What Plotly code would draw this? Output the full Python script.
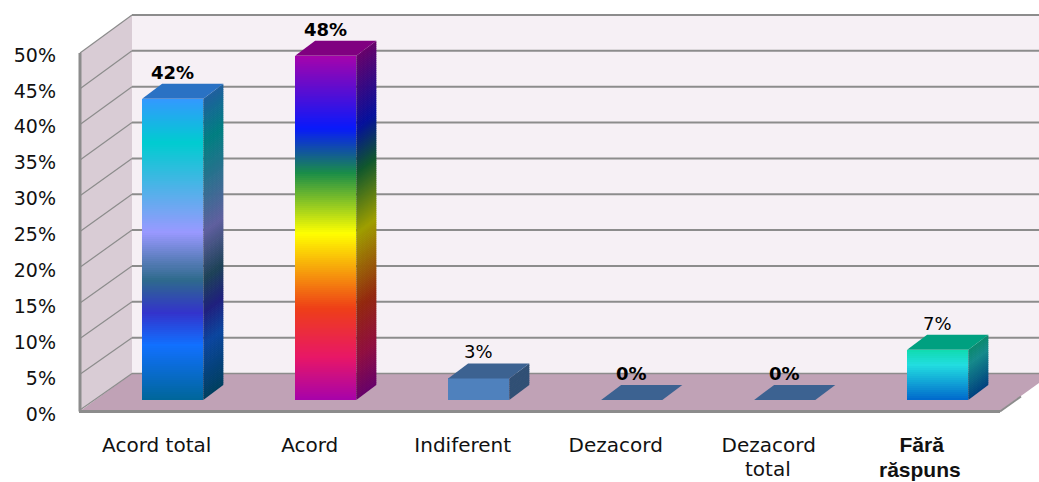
import plotly.graph_objects as go

CATEGORIES = ["Acord total", "Acord", "Indiferent", "Dezacord", "Dezacord", "Fără"]
SECOND_LINES = ["total", "răspuns"]
VALUES = [42, 48, 3, 0, 0, 7]
TICKS = [0, 5, 10, 15, 20, 25, 30, 35, 40, 45, 50]
LABEL_BOLD = [True, True, False, True, True, False]

W, H = 1039, 482
X0, XS = 172.7, 153.0     # pixel of category 0, pixels per category
Y0, YS = 400.0, 7.17      # pixel of value 0 (bar base), pixels per percent
F0, FS = 410.0, 7.14      # front edge of the side wall
L0, LS = 414.0, 7.18      # value-axis labels

GRADIENTS = [
    [(0, "#3399ff"), (.146, "#00ccd0"), (.445, "#9999ff"), (.60, "#2e6a8c"),
     (.71, "#3333cc"), (.817, "#1170ff"), (1, "#006699")],
    [(0, "#a603ab"), (.21, "#0819fb"), (.34, "#1a8d48"), (.516, "#ffff00"),
     (.733, "#ee3f17"), (.875, "#e81766"), (1, "#a603ab")],
    [(0, "#4f81bd"), (1, "#4f81bd")],
    [(0, "#4f81bd"), (1, "#4f81bd")],
    [(0, "#4f81bd"), (1, "#4f81bd")],
    [(0, "#10dcb0"), (.3, "#22dde0"), (1, "#0068cc")],
]
TOP_COLORS = ["#2a72c4", "#800080", "#3c6291", "#3c6291", "#3c6291", "#00a080"]
WALL, SIDE_WALL, FLOOR, GRID = "#f6f0f5", "#d9ccd5", "#c0a2b6", "#8c8c8c"
FONT = "DejaVu Sans"
TEXT = "#111111"


def xv(px):
    return (px - X0) / XS


def yv(px):
    return (Y0 - px) / YS


def hex2rgb(c):
    return tuple(int(c[i:i + 2], 16) for i in (1, 3, 5))


def grad(stops, t, k=1.0):
    for (a, ca), (b, cb) in zip(stops, stops[1:]):
        if t <= b:
            u = (t - a) / (b - a) if b > a else 0
            r = [ra + (rb - ra) * u for ra, rb in zip(hex2rgb(ca), hex2rgb(cb))]
            break
    return "rgb(%d,%d,%d)" % tuple(round(v * k) for v in r)


def poly(points, color, layer="below"):
    d = "M " + " L ".join(f"{x:.4f} {y:.4f}" for x, y in points) + " Z"
    return dict(type="path", path=d, xref="x", yref="y", fillcolor=color,
                line=dict(width=0), layer=layer)


def seg(p, q, width=2, color=GRID):
    return dict(type="line", x0=xv(p[0]), y0=yv(p[1]), x1=xv(q[0]), y1=yv(q[1]),
                xref="x", yref="y", line=dict(color=color, width=width), layer="below")


BX, BY0 = 132.0, 373.5
FRONT_R, BACK_R = 1000.0, 1052.0
shapes = [
    poly([(xv(BX), yv(BY0 - 50 * YS)), (xv(BACK_R + 20), yv(BY0 - 50 * YS)),
          (xv(BACK_R + 20), yv(BY0)), (xv(BX), yv(BY0))], WALL),
    poly([(xv(80), yv(F0 - 50 * FS)), (xv(BX), yv(BY0 - 50 * YS)),
          (xv(BX), yv(BY0)), (xv(80), yv(F0))], SIDE_WALL),
    poly([(xv(80), yv(F0 + 1)), (xv(BX), yv(BY0)), (xv(BACK_R), yv(BY0)),
          (xv(FRONT_R), yv(F0 + 1))], FLOOR),
]
for t in TICKS:
    back = BY0 - t * YS
    front = F0 - t * FS
    if t > 0:
        shapes.append(seg((BX, back), (BACK_R + 20, back), 2))
    else:
        shapes.append(seg((BX, back), (BACK_R, back), 1.5))
    shapes.append(seg((80, front), (BX, back), 1.2))
shapes += [
    seg((80, F0 - 50 * FS), (80, F0 + 1.5), 3),
    seg((79, F0 + 1.5), (FRONT_R, F0 + 1.5), 3),
    seg((FRONT_R, F0 + 1.5), (1021, 396.5), 2),
]

BAR_W = 0.4
DX, DY = 20 / XS, 15 / YS
seg_x, seg_base, seg_h, seg_col = [], [], [], []
for i, (v, stops) in enumerate(zip(VALUES, GRADIENTS)):
    xl, xr = i - BAR_W / 2, i + BAR_W / 2
    if v > 0:
        n = max(1, int(v * YS / 2))
        h = v / n
        for j in range(n):
            t = 1 - (j + .5) / n
            seg_x.append(i)
            seg_base.append(j * h)
            seg_h.append(h)
            seg_col.append(grad(stops, t))
            y0, y1 = j * h, min(v, (j + 1) * h + h * .4)
            shapes.append(poly([(xr, y0), (xr + DX, y0 + DY), (xr + DX, y1 + DY), (xr, y1)],
                               grad(stops, t, .62), "above"))
    shapes.append(poly([(xl, v), (xl + DX, v + DY), (xr + DX, v + DY), (xr, v)],
                       TOP_COLORS[i], "above"))

idx = list(range(len(VALUES)))
fig = go.Figure()
fig.add_bar(x=idx, y=VALUES, width=BAR_W, marker=dict(color=[s[0][1] for s in GRADIENTS], line_width=0),
            hoverinfo="skip", showlegend=False)
fig.add_bar(x=seg_x, y=seg_h, base=seg_base, width=BAR_W, marker=dict(color=seg_col, line_width=0),
            hoverinfo="skip", showlegend=False)
fig.add_scatter(x=idx, y=VALUES, xaxis="x", yaxis="y2", mode="markers",
                marker=dict(opacity=0), hoverinfo="skip", showlegend=False)

annotations = [
    dict(x=i, y=v, xref="x", yref="y", yanchor="bottom", xanchor="center", yshift=14,
         text=(f"<b>{v}%</b>" if b else f"{v}%"), showarrow=False,
         font=dict(family=FONT, size=18, color="#000000"))
    for i, (v, b) in enumerate(zip(VALUES, LABEL_BOLD))
]
annotations += [
    dict(x=4, y=yv(469), xref="x", yref="y", xshift=-17, xanchor="center", yanchor="middle", showarrow=False,
         text=SECOND_LINES[0], font=dict(family=FONT, size=20, color=TEXT)),
    dict(x=5, y=yv(469), xref="x", yref="y", xshift=-18, xanchor="center", yanchor="middle", showarrow=False,
         text=f"<b>{SECOND_LINES[1]}</b>", font=dict(family="Liberation Sans", size=21, color=TEXT)),
]

SPAN = '<span style="font-family:Liberation Sans;font-weight:bold;font-size:21px">%s</span>'
ticktext = CATEGORIES[:-1] + [SPAN % CATEGORIES[-1]]

fig.update_layout(
    width=W, height=H, autosize=False,
    margin=dict(l=0, r=0, t=0, b=0), paper_bgcolor="white", plot_bgcolor="white",
    barmode="overlay", bargap=0, shapes=shapes, annotations=annotations,
    xaxis=dict(range=[xv(0), xv(W)], tickmode="array", tickvals=idx, ticktext=ticktext, ticklabelshift=-16,
               anchor="free", position=(H - 431) / H, showline=False, showgrid=False, zeroline=False,
               ticks="", tickangle=0, tickfont=dict(family=FONT, size=20, color=TEXT), domain=[0, 1]),
    yaxis=dict(range=[yv(H), yv(0)], showticklabels=False, showgrid=False, zeroline=False, showline=False,
               domain=[0, 1]),
    yaxis2=dict(range=[(L0 - H) / LS, L0 / LS], overlaying="y", side="left", anchor="free", position=56 / W,
                tickmode="array", tickvals=TICKS, ticktext=[f"{t}%" for t in TICKS], showgrid=False,
                zeroline=False, showline=False, ticks="", tickfont=dict(family=FONT, size=19, color=TEXT)),
)
fig.write_html("out.html", config=dict(displayModeBar=False),
               post_script="document.body.style.margin='0';document.body.style.overflow='hidden';")
